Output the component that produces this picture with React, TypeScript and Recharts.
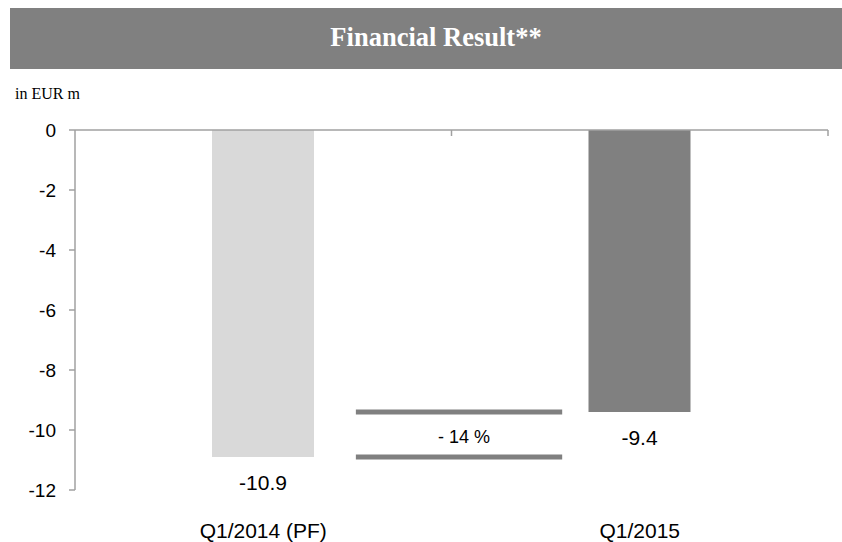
import { Bar, BarChart, Cell, LabelList, ReferenceLine, XAxis, YAxis } from "recharts";

const categories = ["Q1/2014 (PF)", "Q1/2015"];
const values = [-10.9, -9.4];
const barColors = ["#d9d9d9", "#808080"];
const yTicks = [0, -2, -4, -6, -8, -10, -12];

const data = categories.map((name, i) => ({ name, value: values[i] }));
const changePct = Math.round((values[1] / values[0] - 1) * 100);
const changeText = `${changePct < 0 ? "-" : "+"} ${Math.abs(changePct)} %`;

const sans = "'Liberation Sans', Arial, sans-serif";
const serif = "'Liberation Serif', 'Times New Roman', serif";
const axisGray = "#a0a0a0";

function ZeroAxis(props: any) {
  const { x1, x2, y1 } = props;
  const n = categories.length;
  const ticks = [];
  for (let i = 1; i <= n; i++) {
    const x = x1 + ((x2 - x1) * i) / n;
    ticks.push(<line key={i} x1={x} x2={x} y1={y1} y2={y1 + 6} stroke={axisGray} strokeWidth={1.5} />);
  }
  return (
    <g>
      <line x1={x1} x2={x2} y1={y1} y2={y1} stroke={axisGray} strokeWidth={1.5} />
      {ticks}
    </g>
  );
}

function Connector(props: any, withText: boolean) {
  const { x1, x2, y1 } = props;
  const w = x2 - x1;
  const a = x1 + w * 0.373;
  const b = x1 + w * 0.647;
  return (
    <g>
      <line x1={a} x2={b} y1={y1} y2={y1} stroke="#808080" strokeWidth={5} />
      {withText && (
        <text x={(a + b) / 2 + 5} y={y1 + 25} dy="0.35em" textAnchor="middle" fontFamily={sans} fontSize={18} fill="#000">
          {changeText}
        </text>
      )}
    </g>
  );
}

function ValueLabel(props: any) {
  const { x, y, width, height, value } = props;
  const bottom = Math.max(y, y + height);
  return (
    <text x={x + width / 2} y={bottom + 26} dy="0.35em" textAnchor="middle" fontFamily={sans} fontSize={21} fill="#000">
      {Number(value).toFixed(1)}
    </text>
  );
}

function CategoryTick(props: any) {
  const { x, y, payload } = props;
  return (
    <text x={x} y={y + 39} dy="0.35em" textAnchor="middle" fontFamily={sans} fontSize={21} fill="#000">
      {payload.value}
    </text>
  );
}

export default function App() {
  return (
    <div style={{ position: "absolute", left: 0, top: 0, width: 842, height: 542, background: "#fff" }}>
      <div
        style={{
          position: "absolute",
          left: 10,
          top: 8,
          width: 832,
          height: 61,
          background: "#808080",
          color: "#fff",
          fontFamily: serif,
          fontWeight: "bold",
          fontSize: 26.5,
          display: "flex",
          alignItems: "center",
          justifyContent: "center",
          boxSizing: "border-box",
        }}
      >
        <span style={{ position: "relative", left: 10, top: -1 }}>Financial Result**</span>
      </div>
      <div style={{ position: "absolute", left: 15, top: 85, fontFamily: serif, fontSize: 16, color: "#000" }}>
        in EUR m
      </div>
      <div style={{ position: "absolute", left: 0, top: 0 }}>
        <BarChart width={842} height={542} data={data} margin={{ top: 130, right: 14, bottom: 0, left: 0 }}>
          <XAxis
            dataKey="name"
            height={52}
            axisLine={false}
            tickLine={false}
            tickSize={0}
            tick={<CategoryTick />}
            interval={0}
          />
          <YAxis
            width={75}
            domain={[-12, 0]}
            ticks={yTicks}
            interval={0}
            axisLine={{ stroke: axisGray, strokeWidth: 1.5 }}
            tickLine={{ stroke: axisGray, strokeWidth: 1.5 }}
            tickSize={6}
            tickMargin={13}
            tick={{ fontFamily: sans, fontSize: 19, fill: "#000" }}
          />
          <Bar dataKey="value" barSize={102} isAnimationActive={false}>
            {data.map((d, i) => (
              <Cell key={d.name} fill={barColors[i]} />
            ))}
            <LabelList dataKey="value" content={<ValueLabel />} />
          </Bar>
          <ReferenceLine y={values[1]} shape={(p: any) => Connector(p, true)} />
          <ReferenceLine y={values[0]} shape={(p: any) => Connector(p, false)} />
          <ReferenceLine y={0} shape={(p: any) => <ZeroAxis {...p} />} />
        </BarChart>
      </div>
    </div>
  );
}
